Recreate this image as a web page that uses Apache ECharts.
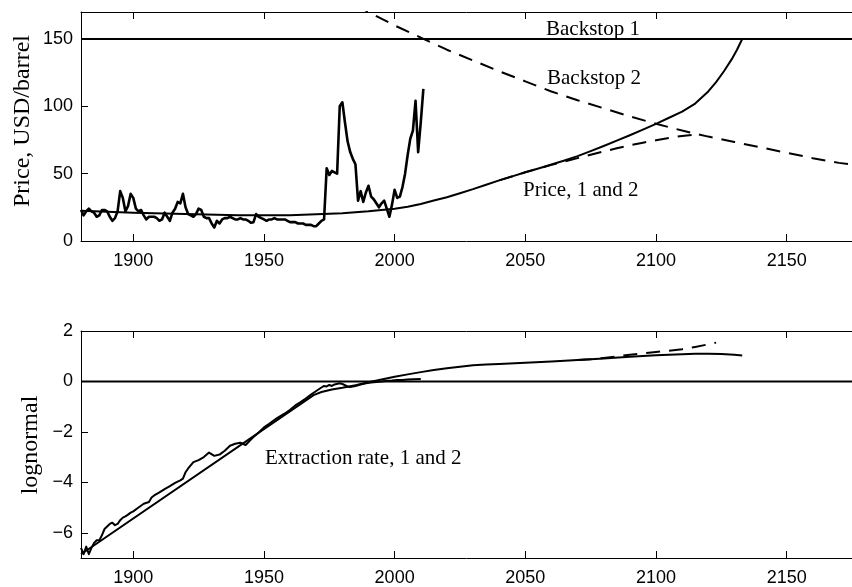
<!DOCTYPE html>
<html><head><meta charset="utf-8">
<script src="https://cdn.jsdelivr.net/npm/echarts@6/dist/echarts.min.js"></script>
<style>html,body{margin:0;padding:0;background:#fff}#c{width:852px;height:587px}</style>
</head><body><div id="c"></div>
<script>
// ---- tick labels ----
const xTicks = [1900, 1950, 2000, 2050, 2100, 2150];
const priceTicks = [0, 50, 100, 150];
const logTicks = [-6, -4, -2, 0, 2];

// ---- top panel: price, USD/barrel ----
const histStartYear = 1880;
const histPrice = [
  23,19,22,24,22,21,18,19,23,23,   // 1880s
  22,18,15,17,22,37,32,22,26,35,   // 1890s
  32,24,22,23,19,16,18,18,18,17,   // 1900s
  15,16,21,18,15,21,24,29,28,35,   // 1910s
  25,20,19,18,20,24,23,18,17,17,   // 1920s
  13,10,15,13,16,17,17,18,17,16,   // 1930s
  16,17,16,16,15,13.5,14,20,18,17, // 1940s
  16,15,16,16,17,16,16,16,16,15,   // 1950s
  14,14,14,13,13,13,12,12,12,11,   // 1960s
  11,13,15,16,54,49,52,51,50,100,  // 1970s
  103,88,74,66,61,57,30,37,29,36,  // 1980s
  41,33,31,28,25,28,30,24,18,27,   // 1990s
  38,32,33,40,50,64,76,82,104,66,  // 2000s
  88,113                           // 2010-2011
];
const backstop1 = 150;
const backstop2 = [[1985,175],[1990,170],[2000,160],[2010,151],[2020,142],[2030,134],[2040,126],
  [2050,118.5],[2060,111],[2070,104.5],[2080,98.5],[2090,92.5],[2100,87],[2110,82],[2120,77.5],
  [2130,73.5],[2140,69.5],[2150,65.5],[2160,61.5],[2170,58],[2175,56.8]];
const price1 = [[1880,22.5],[1900,21],[1920,20],[1940,19.2],[1960,19.2],[1970,19.8],[1980,20.6],
  [1990,22],[2000,24],[2005,25.5],[2010,27.5],[2015,30],[2020,32.5],[2025,35.5],[2030,38.5],
  [2035,41.8],[2040,45],[2045,48],[2050,51],[2055,53.8],[2060,56.8],[2065,59.8],[2070,63],
  [2075,66.7],[2080,70.5],[2085,74.5],[2090,78.5],[2095,82.7],[2100,87],[2105,91.5],[2110,96],
  [2115,102],[2120,111],[2123,118],[2126,126],[2129,135],[2131,142],[2133,150]];
const price2 = [[2040,45],[2050,51],[2055,53.8],[2060,56.5],[2065,59],[2070,61.5],[2075,64],
  [2080,66.5],[2085,68.8],[2090,71],[2095,73],[2100,74.8],[2105,76.5],[2110,78],[2117,79.5]];

// ---- bottom panel: extraction rate (lognormal) ----
const histExtraction = [[1880,-6.6],[1881,-6.85],[1882,-6.55],[1883,-6.85],[1884,-6.6],[1885,-6.4],
  [1886,-6.3],[1887,-6.3],[1888,-6.1],[1889,-5.85],[1890,-5.75],[1891,-5.65],[1892,-5.6],[1893,-5.7],
  [1894,-5.65],[1895,-5.5],[1896,-5.4],[1897,-5.35],[1898,-5.28],[1899,-5.2],[1900,-5.15],
  [1902,-5.0],[1904,-4.85],[1906,-4.78],[1907,-4.6],[1908,-4.52],[1910,-4.4],[1912,-4.27],
  [1914,-4.15],[1916,-4.02],[1918,-3.92],[1919,-3.85],[1920,-3.6],[1921,-3.45],[1923,-3.2],
  [1925,-3.12],[1927,-3.0],[1929,-2.82],[1931,-2.95],[1933,-2.9],[1935,-2.75],[1937,-2.55],
  [1939,-2.47],[1941,-2.43],[1943,-2.52],[1945,-2.3],[1946,-2.2],[1948,-2.02],[1950,-1.82],
  [1952,-1.68],[1955,-1.45],[1958,-1.27],[1960,-1.12],[1962,-0.95],[1964,-0.82],[1966,-0.68],
  [1968,-0.52],[1970,-0.38],[1972,-0.24],[1973,-0.18],[1974,-0.2],[1975,-0.14],[1976,-0.18],
  [1977,-0.12],[1979,-0.07],[1980,-0.1],[1981,-0.15],[1982,-0.2],[1983,-0.22],[1985,-0.18],
  [1987,-0.12],[1989,-0.07],[1991,-0.04],[1993,-0.02],[1995,0.0],[1997,0.03],[1999,0.04],
  [2001,0.06],[2003,0.06],[2005,0.08],[2007,0.09],[2010,0.1]];
const extraction1 = [[1880,-6.85],[1969,-0.54],[1972,-0.42],[1976,-0.32],[1980,-0.25],[1985,-0.15],
  [1990,-0.03],[1995,0.08],[2000,0.19],[2005,0.28],[2010,0.37],[2015,0.45],[2020,0.52],[2025,0.58],
  [2030,0.64],[2035,0.67],[2040,0.69],[2050,0.74],[2060,0.79],[2070,0.85],[2080,0.91],[2090,0.98],
  [2100,1.04],[2105,1.06],[2110,1.08],[2115,1.095],[2120,1.1],[2125,1.09],[2130,1.06],[2133,1.03]];
const extraction2 = [[2070,0.85],[2075,0.88],[2080,0.93],[2085,0.99],[2090,1.06],[2095,1.11],
  [2100,1.17],[2105,1.22],[2110,1.28],[2115,1.37],[2120,1.47],[2123,1.54]];
const zeroLevel = 0;

// ---- build ----
const X0 = 1880, X1 = 2175;
const histPricePairs = histPrice.map((v, i) => [histStartYear + i, v]);
const serif = '"Liberation Serif", "Times New Roman", serif';
const sans = '"Liberation Sans", Arial, sans-serif';
const black = '#000';

function xAxisPair(gi) {
  const base = {
    type: 'value', min: X0, max: X1, gridIndex: gi,
    splitLine: { show: false },
    axisLine: { show: true, onZero: false, lineStyle: { color: black, width: 1 } }
  };
  return [
    Object.assign({}, base, {
      position: 'bottom',
      axisTick: { show: true, inside: true, length: 7, customValues: xTicks, lineStyle: { color: black } },
      axisLabel: { show: true, customValues: xTicks, color: black, fontFamily: sans, fontSize: 18, margin: 11,
        formatter: v => String(v) }
    }),
    Object.assign({}, base, {
      position: 'top',
      axisTick: { show: true, inside: true, length: 7, customValues: xTicks, lineStyle: { color: black } },
      axisLabel: { show: false }
    })
  ];
}
function yAxisPair(gi, mn, mx, ticks) {
  const base = {
    type: 'value', min: mn, max: mx, gridIndex: gi,
    splitLine: { show: false }
  };
  return [
    Object.assign({}, base, {
      position: 'left',
      axisLine: { show: true, onZero: false, lineStyle: { color: black, width: 1 } },
      axisTick: { show: true, inside: true, length: 7, customValues: ticks, lineStyle: { color: black } },
      axisLabel: { show: true, customValues: ticks, color: black, fontFamily: sans, fontSize: 18, margin: 8,
        formatter: v => (v < 0 ? '\u2212' + Math.abs(v) : String(v)) }
    }),
    Object.assign({}, base, {
      position: 'right',
      axisLine: { show: false },
      axisTick: { show: false },
      axisLabel: { show: false }
    })
  ];
}
function line(data, xi, yi, width, dashed, z) {
  return {
    type: 'line', data: data, xAxisIndex: xi, yAxisIndex: yi,
    symbol: 'none', smooth: false, animation: false, silent: true, z: z || 2,
    lineStyle: { color: black, width: width, type: dashed ? [14, 9] : 'solid', cap: 'butt', join: 'round' }
  };
}

const xa = xAxisPair(0).concat(xAxisPair(1));
const ya = yAxisPair(0, 0, 170, priceTicks).concat(yAxisPair(1, -7, 2, logTicks));

const option = {
  backgroundColor: '#fff',
  animation: false,
  grid: [
    { left: 81, top: 12, width: 771, height: 229 },
    { left: 81, top: 331, width: 771, height: 228 }
  ],
  xAxis: xa,
  yAxis: ya,
  series: [
    line([[X0, backstop1], [X1, backstop1]], 0, 0, 2, false),
    line(backstop2, 0, 0, 2, true),
    line(price1, 0, 0, 2, false),
    line(price2, 0, 0, 2, true),
    line(histPricePairs, 0, 0, 2.6, false, 3),
    line([[X0, zeroLevel], [X1, zeroLevel]], 2, 2, 2, false),
    line(histExtraction, 2, 2, 2, false, 3),
    line(extraction1, 2, 2, 2, false),
    line(extraction2, 2, 2, 2, true)
  ],
  graphic: [
    { type: 'text', left: 546, top: 19, style: { text: 'Backstop 1', font: '21px ' + serif, fill: black } },
    { type: 'text', left: 547, top: 68, style: { text: 'Backstop 2', font: '21px ' + serif, fill: black } },
    { type: 'text', left: 523, top: 180, style: { text: 'Price, 1 and 2', font: '21px ' + serif, fill: black } },
    { type: 'text', left: 265, top: 448, style: { text: 'Extraction rate, 1 and 2', font: '21px ' + serif, fill: black } },
    { type: 'text', x: 23, y: 121, rotation: Math.PI / 2,
      style: { text: 'Price, USD/barrel', font: '24px ' + serif, fill: black, align: 'center', verticalAlign: 'middle' } },
    { type: 'text', x: 31, y: 445, rotation: Math.PI / 2,
      style: { text: 'lognormal', font: '24px ' + serif, fill: black, align: 'center', verticalAlign: 'middle' } }
  ]
};
const chart = echarts.init(document.getElementById('c'), null, { renderer: 'canvas' });
chart.setOption(option);
</script>
</body></html>
